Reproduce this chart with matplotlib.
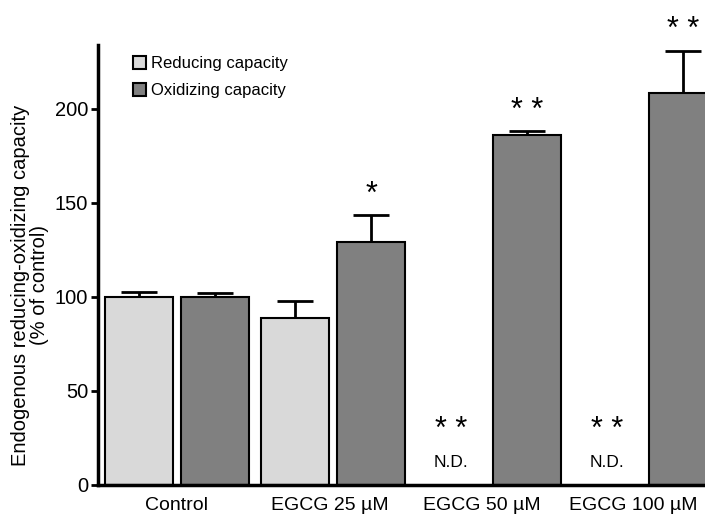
import numpy as np
import matplotlib
matplotlib.use("Agg")
import matplotlib.pyplot as plt
from matplotlib.patches import Patch
from matplotlib.transforms import ScaledTranslation

plt.rcParams['font.family'] = ['Liberation Sans', 'DejaVu Sans']

groups = ["Control", "EGCG 25 µM", "EGCG 50 µM", "EGCG 100 µM"]
reducing = [100, 89, np.nan, np.nan]
reducing_err = [2.7, 9, np.nan, np.nan]
oxidizing = [100, 129, 186, 208.5]
oxidizing_err = [2, 14.5, 2, 22.5]
reducing_marks = ["", "", "* *", "* *"]
reducing_nd = ["", "", "N.D.", "N.D."]
oxidizing_marks = ["", "*", "* *", "* *"]

red_color = "#d9d9d9"
ox_color = "#808080"

fig = plt.figure(figsize=(7.05, 5.17), dpi=100)
ax = fig.add_axes([98/705, 1-485/517, 1-98/705, (485-45)/517])

x = np.arange(len(groups))
w = 0.436
off = 0.244

ax.bar(x - off, reducing, w, color=red_color, edgecolor="black", linewidth=1.5, zorder=2)
ax.bar(x + off, oxidizing, w, color=ox_color, edgecolor="black", linewidth=1.5, zorder=2)

for xi, v, e in zip(x - off, reducing, reducing_err):
    if not np.isnan(v):
        ax.errorbar(xi, v, yerr=[[0], [e]], color="black", capsize=13, elinewidth=2, capthick=2, zorder=1)
for xi, v, e in zip(x + off, oxidizing, oxidizing_err):
    ax.errorbar(xi, v, yerr=[[0], [e]], color="black", capsize=13, elinewidth=2, capthick=2, zorder=1)

for xi, m, nd in zip(x - off, reducing_marks, reducing_nd):
    if m:
        ax.text(xi, 29, m, ha="center", va="center", fontsize=22, clip_on=False)
    if nd:
        ax.text(xi, 12, nd, ha="center", va="center", fontsize=12.5)
for xi, m, v, e in zip(x + off, oxidizing_marks, oxidizing, oxidizing_err):
    if m:
        ax.text(xi, v + e + 11, m, ha="center", va="center", fontsize=22, clip_on=False)

ax.set_xlim(-0.506, 3.385)
ax.set_ylim(0, 234)
ax.set_yticks([0, 50, 100, 150, 200])
ax.set_xticks(x)
ax.set_xticklabels(groups, fontsize=14)
ax.tick_params(axis="y", labelsize=14.5, width=2, length=5, direction="out", pad=2)
ax.tick_params(axis="x", length=0, pad=9)
shifts = [0, -3, -7, -12]
for lab, s in zip(ax.get_xticklabels(), shifts):
    lab.set_transform(lab.get_transform() + ScaledTranslation(s / 100, 0, fig.dpi_scale_trans))
for s in ["top", "right"]:
    ax.spines[s].set_visible(False)
for s in ["left", "bottom"]:
    ax.spines[s].set_linewidth(2.5)

fig.text(30/705, 1-285/517, "Endogenous reducing-oxidizing capacity\n(% of control)",
         rotation=90, ha="center", va="center", fontsize=14.5, linespacing=1.0)

handles = [Patch(facecolor=red_color, edgecolor="black", linewidth=1.5, label="Reducing capacity"),
           Patch(facecolor=ox_color, edgecolor="black", linewidth=1.5, label="Oxidizing capacity")]
fig.legend(handles=handles, loc="upper left", bbox_to_anchor=(133/705, 1-56/517), frameon=False,
           fontsize=12, handlelength=0.8, handleheight=0.8, handletextpad=0.3, labelspacing=0.7,
           borderaxespad=0, borderpad=0)

fig.savefig("out.png", dpi=100)
